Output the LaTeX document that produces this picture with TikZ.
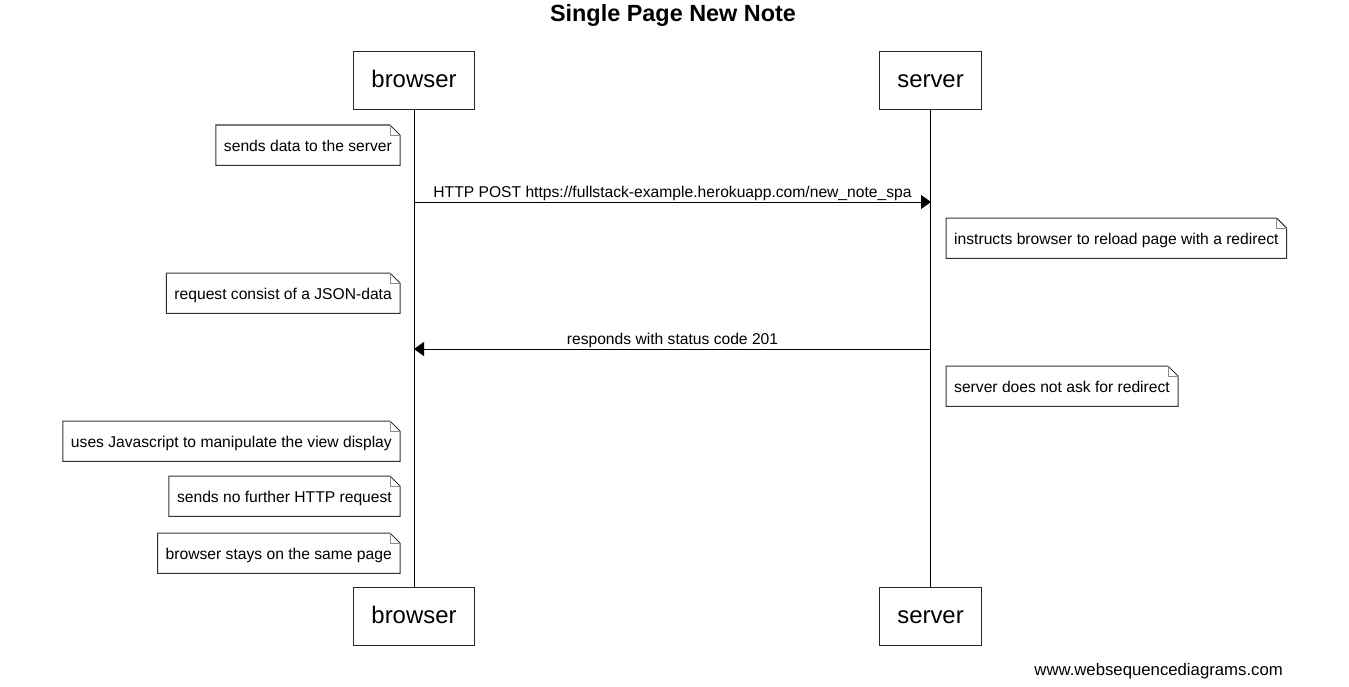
\documentclass[tikz,border=0pt]{standalone}
\usepackage{fontspec}
\setmainfont{Liberation Sans}
\usetikzlibrary{arrows.meta}
\newcommand{\mynote}[4]{%
  \node[notetext, anchor=#1] (#2) at #3 {#4};
  \draw[noteline] (#2.north west) -- ([xshift=-10bp]#2.north east) -- ([yshift=-10bp]#2.north east) -- (#2.south east) -- (#2.south west) -- cycle;
  \draw[notefold] ([xshift=-10bp]#2.north east) -- ([xshift=-10bp,yshift=-10bp]#2.north east) -- ([yshift=-10bp]#2.north east);
}
\begin{document}
\begin{tikzpicture}[x=1bp,y=-1bp,
  actor/.style={draw=black!85, line width=1bp, fill=white, minimum height=58bp, inner xsep=17.5bp, inner ysep=0pt,
    text height=18bp, text depth=4bp, font=\fontsize{24}{28}\selectfont},
  notetext/.style={inner xsep=8bp, inner ysep=0pt, minimum height=40bp, text height=13.5bp, text depth=0.5bp,
    font=\fontsize{15.7}{18}\selectfont},
  noteline/.style={draw=black!80, line width=1bp},
  notefold/.style={draw=black!45, line width=0.8bp},
  lifeline/.style={draw=black, line width=1bp},
  msg/.style={draw=black, line width=1bp, -{Triangle[length=10bp,width=14bp]}},
  msglabel/.style={above, inner sep=1bp, font=\fontsize{15.7}{18}\selectfont}
]
\useasboundingbox (0,0) rectangle (1349,686);

\node[font=\bfseries\fontsize{23.5}{28}\selectfont, anchor=base] (title) at (673,22) {Single Page New Note};

\node[actor] (bt) at (414,80.5) {browser};
\node[actor] (st) at (930.5,80.5) {server};
\node[actor] (bb) at (414,616.5) {browser};
\node[actor] (sb) at (930.5,616.5) {server};

\draw[lifeline] (bt.south) -- (bb.north);
\draw[lifeline] (st.south) -- (sb.north);

\mynote{north east}{n1}{(400,125)}{sends data to the server}

\coordinate (m1a) at (414,202);
\coordinate (m1b) at (931,202);
\draw[msg] (m1a) -- node[msglabel] {HTTP POST https://fullstack-example.herokuapp.com/new\_note\_spa} (m1b);

\mynote{north west}{n2}{(946,218)}{instructs browser to reload page with a redirect}
\mynote{north east}{n3}{(400,273)}{request consist of a JSON-data}

\coordinate (m2a) at (931,349);
\coordinate (m2b) at (414,349);
\draw[msg] (m2a) -- node[msglabel] {responds with status code 201} (m2b);

\mynote{north west}{n4}{(946,366)}{server does not ask for redirect}
\mynote{north east}{n5}{(400,421)}{uses Javascript to manipulate the view display}
\mynote{north east}{n6}{(400,476)}{sends no further HTTP request}
\mynote{north east}{n7}{(400,533)}{browser stays on the same page}

\node[anchor=base east, inner sep=0pt, font=\fontsize{16.8}{20}\selectfont] (footer) at (1283,675) {www.websequencediagrams.com};
\end{tikzpicture}
\end{document}
